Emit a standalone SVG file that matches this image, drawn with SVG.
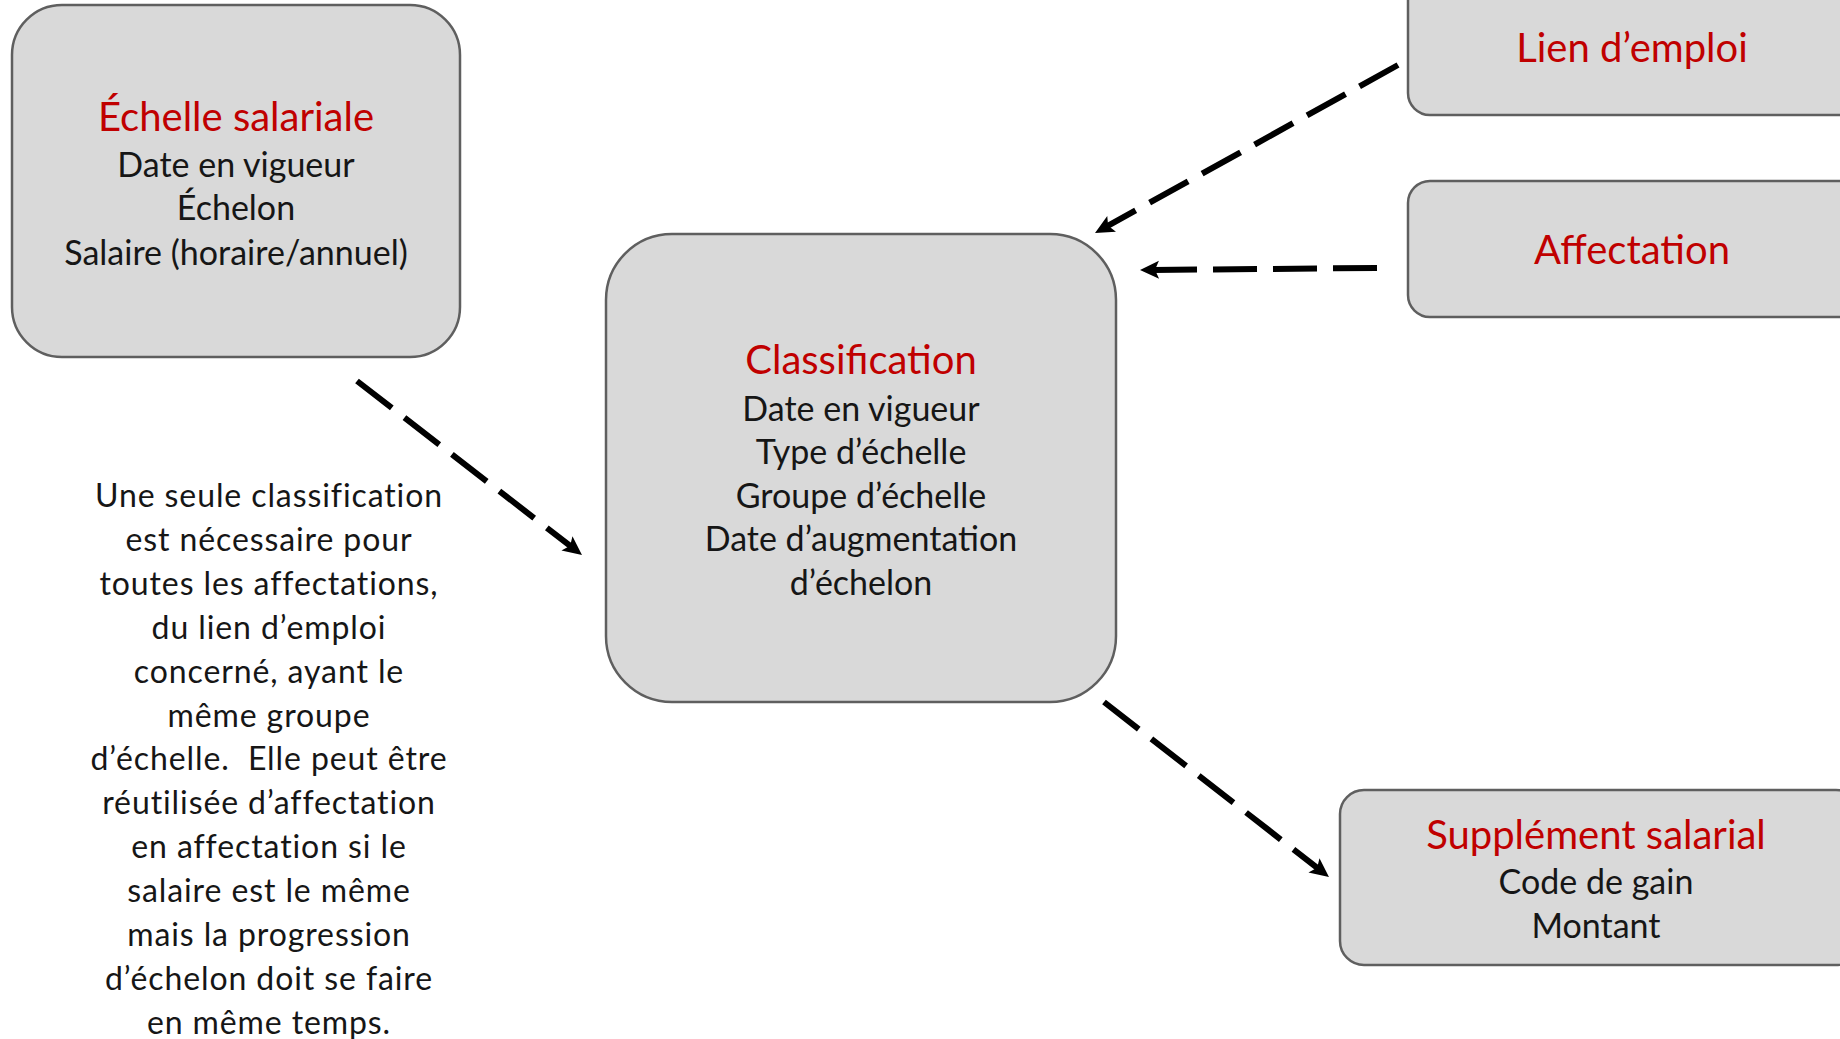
<svg xmlns="http://www.w3.org/2000/svg" width="1840" height="1039" viewBox="0 0 1840 1039">
<defs>
<style>
.box{fill:#d9d9d9;stroke:#5f5f5f;stroke-width:2.5}
.t{font-family:Lato,"Liberation Sans",sans-serif;text-anchor:middle}
.title{fill:#c00000;font-size:40px}
.body{fill:#161616;font-size:34px}
.note{fill:#161616;font-size:32px;letter-spacing:0.9px}
.conn{fill:none;stroke:#000;stroke-width:6;stroke-dasharray:44 16;marker-end:url(#arr)}
</style>
<marker id="arr" markerUnits="userSpaceOnUse" orient="auto" viewBox="-10 -10 25 20" markerWidth="25" markerHeight="20" refX="0" refY="0">
<path d="M12,0 L-7,-9 L-3,0 L-7,9 Z" fill="#000"/>
</marker>
</defs>
<rect width="1840" height="1039" fill="#fff"/>
<g id="connectors">
<path class="conn" d="M357,381 L572.5,547.7"/>
<path class="conn" d="M1398,65 L1105.5,227.2"/>
<path class="conn" d="M1377,268 L1152,269.9"/>
<path class="conn" d="M1104,702 L1319.5,869.6"/>
</g>
<g id="echelle">
<rect class="box" x="12" y="5" width="448" height="352" rx="50" ry="50"/>
<text class="t title" x="236" y="131">Échelle salariale</text>
<text class="t body" x="236" y="177">Date en vigueur</text>
<text class="t body" x="236" y="220">Échelon</text>
<text class="t body" x="236" y="265">Salaire (horaire/annuel)</text>
</g>
<g id="classification">
<rect class="box" x="606" y="234" width="510" height="468" rx="66" ry="66"/>
<text class="t title" x="861" y="374">Classification</text>
<text class="t body" x="861" y="421">Date en vigueur</text>
<text class="t body" x="861" y="464">Type d’échelle</text>
<text class="t body" x="861" y="508">Groupe d’échelle</text>
<text class="t body" x="861" y="551">Date d’augmentation</text>
<text class="t body" x="861" y="595">d’échelon</text>
</g>
<g id="lien">
<rect class="box" x="1408" y="-40" width="460" height="155" rx="22" ry="22"/>
<text class="t title" x="1632" y="62">Lien d’emploi</text>
</g>
<g id="affectation">
<rect class="box" x="1408" y="181" width="460" height="136" rx="22" ry="22"/>
<text class="t title" x="1632" y="264">Affectation</text>
</g>
<g id="supplement">
<rect class="box" x="1340" y="790" width="520" height="175" rx="24" ry="24"/>
<text class="t title" x="1596" y="849">Supplément salarial</text>
<text class="t body" x="1596" y="894">Code de gain</text>
<text class="t body" x="1596" y="938">Montant</text>
</g>
<g id="note">
<text class="t note" x="269" y="507">Une seule classification</text>
<text class="t note" x="269" y="551">est nécessaire pour</text>
<text class="t note" x="269" y="595">toutes les affectations,</text>
<text class="t note" x="269" y="639">du lien d’emploi</text>
<text class="t note" x="269" y="683">concerné, ayant le</text>
<text class="t note" x="269" y="727">même groupe</text>
<text class="t note" x="269" y="770" xml:space="preserve">d’échelle.  Elle peut être</text>
<text class="t note" x="269" y="814">réutilisée d’affectation</text>
<text class="t note" x="269" y="858">en affectation si le</text>
<text class="t note" x="269" y="902">salaire est le même</text>
<text class="t note" x="269" y="946">mais la progression</text>
<text class="t note" x="269" y="990">d’échelon doit se faire</text>
<text class="t note" x="269" y="1034">en même temps.</text>
</g>
</svg>
